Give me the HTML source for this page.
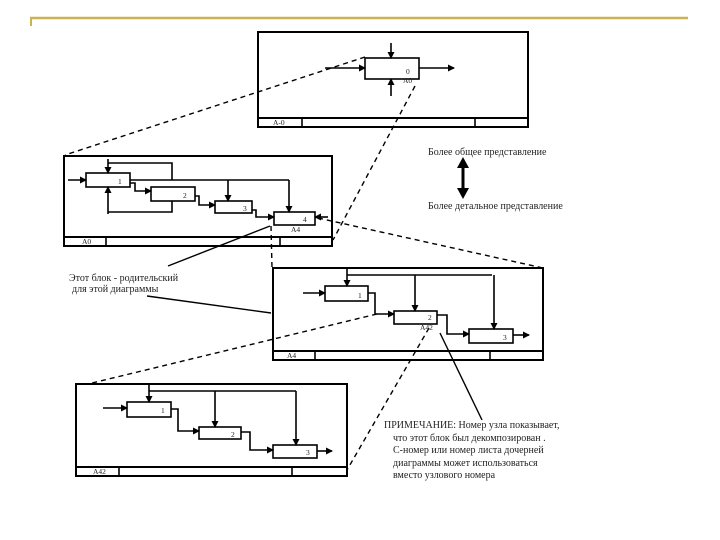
<!DOCTYPE html>
<html><head><meta charset="utf-8"><style>
html,body{margin:0;padding:0;background:#fff;}
svg{display:block;}
text{font-family:"Liberation Serif",serif;fill:#222;}
</style></head><body>
<svg width="720" height="540" viewBox="0 0 720 540" xmlns="http://www.w3.org/2000/svg">
<defs>
<marker id="a" markerWidth="7" markerHeight="7" refX="6" refY="3.5" orient="auto" markerUnits="userSpaceOnUse"><path d="M0,0 L7,3.5 L0,7 z" fill="#000"/></marker>
</defs>
<line x1="30" y1="18" x2="688" y2="18" stroke="#c8b450" stroke-width="2.5"/>
<line x1="31" y1="17" x2="31" y2="26" stroke="#c8b450" stroke-width="2"/>

<g fill="none" stroke="#000" stroke-width="2">
<rect x="258" y="32" width="270" height="95"/>
<line x1="258" y1="118" x2="528" y2="118"/>
<rect x="64" y="156" width="268" height="90"/>
<line x1="64" y1="237" x2="332" y2="237"/>
<rect x="273" y="268" width="270" height="92"/>
<line x1="273" y1="351" x2="543" y2="351"/>
<rect x="76" y="384" width="271" height="92"/>
<line x1="76" y1="467" x2="347" y2="467"/>
</g>
<g fill="none" stroke="#000" stroke-width="1.6">
<line x1="302" y1="118" x2="302" y2="127"/><line x1="475" y1="118" x2="475" y2="127"/>
<rect x="365" y="58" width="54" height="21"/>
<line x1="391" y1="43" x2="391" y2="58" marker-end="url(#a)"/>
<line x1="325" y1="68" x2="365" y2="68" marker-end="url(#a)"/>
<line x1="419" y1="68" x2="454" y2="68" marker-end="url(#a)"/>
<line x1="391" y1="96" x2="391" y2="79" marker-end="url(#a)"/>

<line x1="106" y1="237" x2="106" y2="246"/><line x1="280" y1="237" x2="280" y2="246"/>
<rect x="86" y="173" width="44" height="14"/>
<rect x="151" y="187" width="44" height="14"/>
<rect x="215" y="201" width="37" height="12"/>
<rect x="274" y="212" width="41" height="13"/>
<line x1="108" y1="159" x2="108" y2="173" marker-end="url(#a)"/>
<polyline points="108,163 172,163 172,180"/>
<line x1="130" y1="180" x2="289" y2="180"/>
<line x1="228" y1="180" x2="228" y2="201" marker-end="url(#a)"/>
<line x1="289" y1="180" x2="289" y2="212" marker-end="url(#a)"/>
<line x1="108" y1="214" x2="108" y2="187" marker-end="url(#a)"/>
<polyline points="108,212 172,212 172,201"/>
<line x1="68" y1="180" x2="86" y2="180" marker-end="url(#a)"/>
<polyline points="130,183 135,183 135,191 151,191" marker-end="url(#a)"/>
<polyline points="195,196 199,196 199,205 215,205" marker-end="url(#a)"/>
<polyline points="252,210 256,210 256,217 274,217" marker-end="url(#a)"/>
<line x1="328" y1="217" x2="315" y2="217" marker-end="url(#a)"/>

<line x1="315" y1="351" x2="315" y2="360"/><line x1="490" y1="351" x2="490" y2="360"/>
<rect x="325" y="286" width="43" height="15"/>
<rect x="394" y="311" width="43" height="13"/>
<rect x="469" y="329" width="44" height="14"/>
<line x1="347" y1="268" x2="347" y2="286" marker-end="url(#a)"/>
<polyline points="347,275 492,275"/>
<line x1="415" y1="275" x2="415" y2="311" marker-end="url(#a)"/>
<line x1="494" y1="275" x2="494" y2="329" marker-end="url(#a)"/>
<line x1="303" y1="293" x2="325" y2="293" marker-end="url(#a)"/>
<polyline points="368,293 375,293 375,314 394,314" marker-end="url(#a)"/>
<polyline points="437,315 447,315 447,334 469,334" marker-end="url(#a)"/>
<line x1="513" y1="335" x2="529" y2="335" marker-end="url(#a)"/>

<line x1="119" y1="467" x2="119" y2="476"/><line x1="292" y1="467" x2="292" y2="476"/>
<rect x="127" y="402" width="44" height="15"/>
<rect x="199" y="427" width="42" height="12"/>
<rect x="273" y="445" width="44" height="13"/>
<line x1="149" y1="384" x2="149" y2="402" marker-end="url(#a)"/>
<polyline points="149,391 296,391"/>
<line x1="215" y1="391" x2="215" y2="427" marker-end="url(#a)"/>
<line x1="296" y1="391" x2="296" y2="445" marker-end="url(#a)"/>
<line x1="103" y1="408" x2="127" y2="408" marker-end="url(#a)"/>
<polyline points="171,409 178,409 178,431 199,431" marker-end="url(#a)"/>
<polyline points="241,432 250,432 250,450 273,450" marker-end="url(#a)"/>
<line x1="317" y1="451" x2="332" y2="451" marker-end="url(#a)"/>

<line x1="463" y1="166" x2="463" y2="190" stroke-width="3"/>
</g>
<path d="M457,168 L463,157 L469,168 z" fill="#000"/>
<path d="M457,188 L463,199 L469,188 z" fill="#000"/>

<g fill="none" stroke="#000" stroke-width="1.4" stroke-dasharray="5,4">
<line x1="365" y1="57" x2="65" y2="155"/>
<line x1="415" y1="86" x2="333" y2="240"/>
<line x1="318" y1="218" x2="543" y2="268"/>
<line x1="271" y1="226" x2="272" y2="268"/>
<line x1="377" y1="314" x2="88" y2="384"/>
<line x1="429" y1="328" x2="347" y2="470"/>
</g>
<g stroke="#000" stroke-width="1.4">
<line x1="270" y1="226" x2="168" y2="266"/>
<line x1="147" y1="296" x2="271" y2="313"/>
<line x1="440" y1="333" x2="482" y2="420"/>
</g>

<g font-size="7.5">
<text x="406" y="74">0</text><text x="403" y="83">A0</text>
<text x="118" y="184">1</text><text x="183" y="198">2</text><text x="243" y="211">3</text>
<text x="303" y="222">4</text><text x="291" y="232">A4</text>
<text x="82" y="244">A0</text><text x="273" y="125">A-0</text>
<text x="358" y="298">1</text><text x="428" y="320">2</text><text x="420" y="330">A42</text><text x="503" y="340">3</text>
<text x="287" y="358">A4</text>
<text x="161" y="413">1</text><text x="231" y="437">2</text><text x="306" y="455">3</text>
<text x="93" y="474">A42</text>
</g>
<g font-size="10">
<text x="428" y="155">Более общее представление</text>
<text x="428" y="209">Более детальное представление</text>
<text x="69" y="281">Этот блок - родительский</text>
<text x="72" y="292">для этой диаграммы</text>
<text x="384" y="428">ПРИМЕЧАНИЕ: Номер узла показывает,</text>
<text x="393" y="441">что этот блок был декомпозирован .</text>
<text x="393" y="453">С-номер или номер листа дочерней</text>
<text x="393" y="466">диаграммы может использоваться</text>
<text x="393" y="478">вместо узлового номера</text>
</g>
</svg>
</body></html>
